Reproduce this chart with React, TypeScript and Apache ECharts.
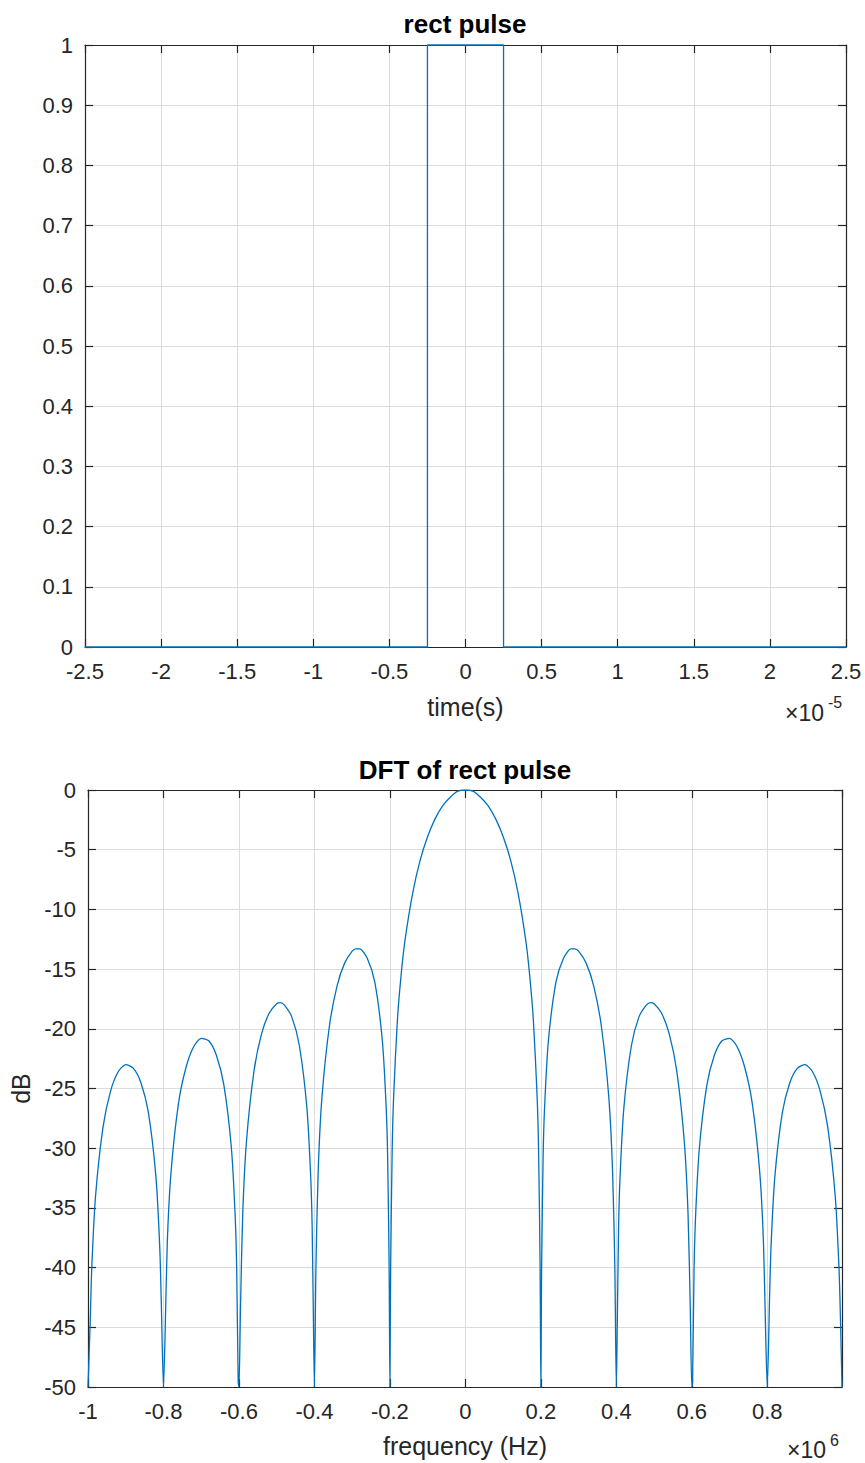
import React, { useEffect, useRef } from "react";
import * as echarts from "echarts";

// ---- data ----
const TIME_X = [-2.5, -0.25, -0.25, 0.25, 0.25, 2.5]; // ×1e-5 s
const PULSE_Y = [0, 0, 1, 1, 0, 0];

const TIME_TICKS_MIN = -2.5;
const TIME_TICKS_MAX = 2.5;
const FREQ_MIN = -1;
const FREQ_MAX = 0.998; // ×1e6 Hz

// frequency (×1e6 Hz) and magnitude (dB)
const FREQ = [
  -1, -0.994, -0.99, -0.98, -0.96, -0.94, -0.92, -0.9, -0.88, -0.86, -0.84, -0.82, -0.81, -0.806, -0.8,
  -0.796, -0.79, -0.78, -0.76, -0.74, -0.72, -0.7, -0.68, -0.66, -0.64, -0.62, -0.61, -0.606, -0.602, -0.6,
  -0.596, -0.59, -0.58, -0.56, -0.54, -0.52, -0.5, -0.49, -0.48, -0.46, -0.44, -0.42, -0.41, -0.406, -0.402, -0.4,
  -0.396, -0.39, -0.38, -0.36, -0.34, -0.32, -0.3, -0.29, -0.28, -0.26, -0.24, -0.22, -0.21, -0.206, -0.202, -0.2,
  -0.198, -0.194, -0.19, -0.18, -0.17, -0.16, -0.14, -0.12, -0.1, -0.08, -0.06, -0.04, -0.02, 0,
  0.02, 0.04, 0.06, 0.08, 0.1, 0.12, 0.14, 0.16, 0.17, 0.18, 0.19, 0.194, 0.198, 0.2,
  0.202, 0.206, 0.21, 0.22, 0.24, 0.26, 0.28, 0.29, 0.3, 0.32, 0.34, 0.36, 0.38, 0.39, 0.396, 0.4,
  0.402, 0.406, 0.41, 0.42, 0.44, 0.46, 0.48, 0.49, 0.5, 0.52, 0.54, 0.56, 0.58, 0.59, 0.596, 0.6,
  0.602, 0.606, 0.61, 0.62, 0.64, 0.66, 0.68, 0.7, 0.72, 0.74, 0.76, 0.78, 0.79, 0.796, 0.8,
  0.806, 0.81, 0.82, 0.84, 0.86, 0.88, 0.9, 0.92, 0.94, 0.96, 0.98, 0.99, 0.994, 0.998,
];
const DB = [
  -50, -44.4, -40.0, -34.0, -28.2, -25.2, -23.6, -23.0, -23.3, -24.5, -27.0, -32.4, -38.2, -42.6, -50,
  -46.0, -38.0, -32.0, -26.2, -23.2, -21.5, -20.8, -21.0, -22.2, -24.7, -30.0, -35.7, -40.1, -49.6, -50,
  -43.5, -35.5, -29.4, -23.5, -20.4, -18.7, -17.9, -17.8, -18.0, -19.0, -21.4, -26.6, -32.3, -36.6, -46.1, -50,
  -39.9, -31.9, -25.7, -19.7, -16.4, -14.5, -13.5, -13.3, -13.3, -14.1, -16.1, -21.0, -26.5, -30.7, -40.1, -50,
  -39.9, -30.2, -25.6, -19.2, -15.4, -12.6, -8.7, -5.9, -3.9, -2.4, -1.3, -0.6, -0.1, 0,
  -0.1, -0.6, -1.3, -2.4, -3.9, -5.9, -8.7, -12.6, -15.4, -19.2, -25.6, -30.2, -39.9, -50,
  -40.1, -30.7, -26.5, -21.0, -16.1, -14.1, -13.3, -13.3, -13.5, -14.5, -16.4, -19.7, -25.7, -31.9, -39.9, -50,
  -46.1, -36.6, -32.3, -26.6, -21.4, -19.0, -18.0, -17.8, -17.9, -18.7, -20.4, -23.5, -29.4, -35.5, -43.5, -50,
  -49.6, -40.1, -35.7, -30.0, -24.7, -22.2, -21.0, -20.8, -21.5, -23.2, -26.2, -32.0, -38.0, -46.0, -50,
  -42.6, -38.2, -32.4, -27.0, -24.5, -23.3, -23.0, -23.6, -25.2, -28.2, -34.0, -40.0, -44.4, -50,
];

const LINE_COLOR = "#0072BD";
const TEXT = "#262626";
const FONT = "'Liberation Sans', Arial, sans-serif";

const fmt = (v: number) => String(+v.toFixed(2));

function axisX(
  gridIndex: number,
  min: number,
  max: number,
  interval: number,
  primary: boolean,
  showMax: boolean,
  name?: string,
  nameGap = 47
) {
  return {
    type: "value",
    gridIndex,
    min,
    max,
    interval,
    position: primary ? "bottom" : "top",
    name: primary ? name : undefined,
    nameLocation: "middle",
    nameGap,
    nameTextStyle: { color: TEXT, fontSize: 25, fontFamily: FONT },
    axisLine: { show: true, onZero: false, lineStyle: { color: TEXT, width: 1.2 } },
    axisTick: { show: true, inside: true, length: 8, lineStyle: { color: TEXT, width: 1.2 } },
    axisLabel: {
      show: primary,
      color: TEXT,
      fontSize: 22,
      fontFamily: FONT,
      margin: 13,
      showMaxLabel: showMax,
      formatter: fmt,
    },
    splitLine: { show: primary, lineStyle: { color: "#dcdcdc", width: 1 } },
  };
}

function axisY(gridIndex: number, min: number, max: number, interval: number, primary: boolean, name?: string) {
  return {
    type: "value",
    gridIndex,
    min,
    max,
    interval,
    position: primary ? "left" : "right",
    name: primary ? name : undefined,
    nameLocation: "middle",
    nameGap: 48,
    nameRotate: 90,
    nameTextStyle: { color: TEXT, fontSize: 25, fontFamily: FONT },
    axisLine: { show: true, onZero: false, lineStyle: { color: TEXT, width: 1.2 } },
    axisTick: { show: true, inside: true, length: 8, lineStyle: { color: TEXT, width: 1.2 } },
    axisLabel: {
      show: primary,
      color: TEXT,
      fontSize: 22,
      fontFamily: FONT,
      margin: 12,
      formatter: fmt,
    },
    splitLine: { show: primary, lineStyle: { color: "#dcdcdc", width: 1 } },
  };
}

export default function App() {
  const ref = useRef<HTMLDivElement>(null);
  useEffect(() => {
    document.body.style.margin = "0";
    if (!ref.current) return;
    const chart = echarts.init(ref.current, null, { renderer: "svg" });
    const pulse = TIME_X.map((x, i) => [x, PULSE_Y[i]]);
    const spectrum = FREQ.map((f, i) => [f, DB[i]]);
    chart.setOption({
      animation: false,
      backgroundColor: "#ffffff",
      title: [
        {
          text: "rect pulse",
          left: 460,
          textAlign: "center",
          top: 6,
          textStyle: { color: "#000", fontSize: 26, fontWeight: "bold", fontFamily: FONT },
        },
        {
          text: "DFT of rect pulse",
          left: 460,
          textAlign: "center",
          top: 752,
          textStyle: { color: "#000", fontSize: 26, fontWeight: "bold", fontFamily: FONT },
        },
      ],
      grid: [
        { left: 85, top: 45, width: 761, height: 602 },
        { left: 88, top: 790, width: 754, height: 597 },
      ],
      xAxis: [
        axisX(0, TIME_TICKS_MIN, TIME_TICKS_MAX, 0.5, true, true, "time(s)", 47),
        axisX(0, TIME_TICKS_MIN, TIME_TICKS_MAX, 0.5, false, true),
        axisX(1, FREQ_MIN, FREQ_MAX, 0.2, true, false, "frequency (Hz)", 46),
        axisX(1, FREQ_MIN, FREQ_MAX, 0.2, false, false),
      ],
      yAxis: [
        axisY(0, 0, 1, 0.1, true),
        axisY(0, 0, 1, 0.1, false),
        axisY(1, -50, 0, 5, true, "dB"),
        axisY(1, -50, 0, 5, false),
      ],
      series: [
        {
          type: "line",
          xAxisIndex: 0,
          yAxisIndex: 0,
          data: pulse,
          showSymbol: false,
          lineStyle: { color: LINE_COLOR, width: 1.3 },
          clip: false,
        },
        {
          type: "line",
          xAxisIndex: 2,
          yAxisIndex: 2,
          data: spectrum,
          showSymbol: false,
          smooth: 0.25,
          lineStyle: { color: LINE_COLOR, width: 1.3 },
          clip: true,
        },
      ],
      graphic: [
        { type: "text", left: 785, top: 701, style: { text: "×10", fontSize: 23, fontFamily: FONT, fill: TEXT } },
        { type: "text", left: 828, top: 694, style: { text: "-5", fontSize: 16, fontFamily: FONT, fill: TEXT } },
        { type: "text", left: 787, top: 1438, style: { text: "×10", fontSize: 23, fontFamily: FONT, fill: TEXT } },
        { type: "text", left: 830, top: 1432, style: { text: "6", fontSize: 16, fontFamily: FONT, fill: TEXT } },
      ],
    });
    return () => chart.dispose();
  }, []);
  return <div ref={ref} style={{ width: 865, height: 1463 }} />;
}
